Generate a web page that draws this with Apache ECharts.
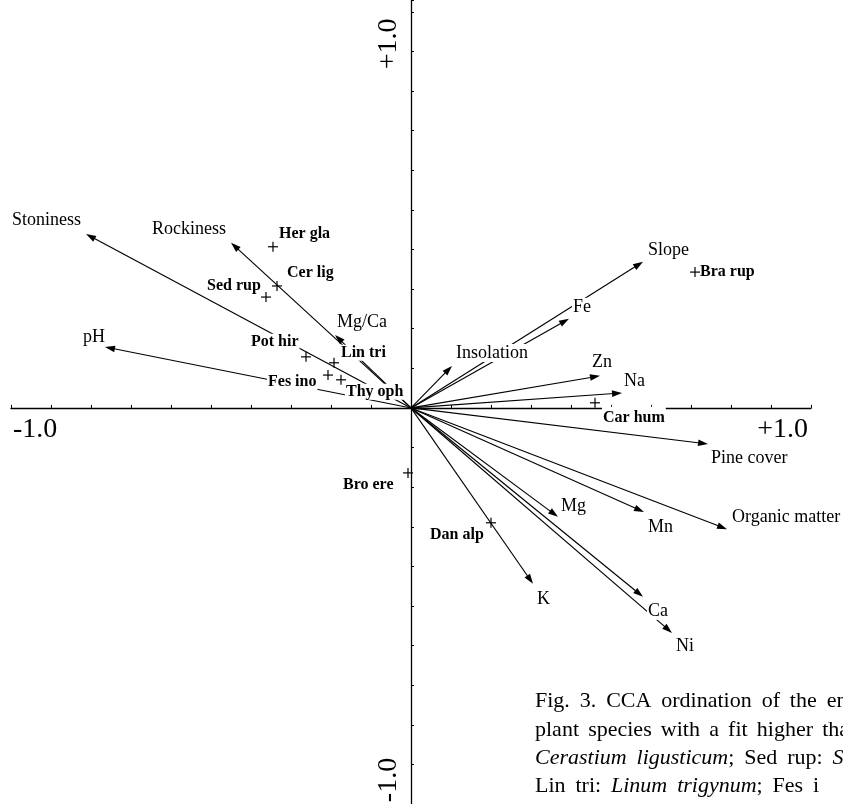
<!DOCTYPE html>
<html><head><meta charset="utf-8">
<script src="https://cdn.jsdelivr.net/npm/echarts@6/dist/echarts.min.js"></script>
<style>html,body{margin:0;padding:0;background:#fff}#c{width:843px;height:804px}</style>
</head><body><div id="c"></div>
<script>
// ---- data ----
const envNames = ['Stoniness','Rockiness','Mg/Ca','pH','Slope','Fe','Insolation','Zn','Na','Pine cover','Organic matter','Mn','Mg','K','Ca','Ni'];
const envX = [-0.8125,-0.45,-0.19,-0.765,0.58,0.395,0.1025,0.4725,0.5275,0.7425,0.79,0.5825,0.3675,0.305,0.58,0.6525];
const envY = [0.439,0.417,0.184,0.154,0.369,0.225,0.106,0.081,0.038,-0.091,-0.306,-0.263,-0.275,-0.444,-0.477,-0.568];
const spNames = ['Her gla','Cer lig','Sed rup','Pot hir','Lin tri','Fes ino','Thy oph','Bra rup','Car hum','Bro ere','Dan alp'];
const spX = [-0.345,-0.335,-0.3625,-0.2625,-0.1925,-0.2075,-0.175,0.71,0.46,-0.0075,0.2];
const spY = [0.407,0.308,0.280,0.129,0.114,0.083,0.071,0.343,0.013,-0.164,-0.29];
const xTickLabels = ['-1.0','+1.0'];
const yTickLabels = ['+1.0','-1.0'];
const captionLines = [
  'Fig. 3. CCA ordination of the en',
  'plant species with a fit higher tha',
  '{i|Cerastium ligusticum}; Sed rup: {i|S}',
  'Lin tri: {i|Linum trigynum}; Fes i'
];

// ---- layout (pixel offsets of labels from their points) ----
const envLabelOffset = [[-75,-14],[-80,-14],[1,-13],[-23,-10],[4,-12],[3,-12],[3,-13],[-9,-14],[1,-12],[2,14],[4,-12],[3,15],[2,-11],[3,15],[4,14],[3,13]];
const spLabelOffset = [[5,-13],[9,-13],[-60,-11],[-56,-15],[6,-10],[-61,7],[4,12],[4,0],[7,15],[-66,12],[-62,12]];
const captionGap = [' \u2009', '\u2004\u200A', ' \u2009', ' \u2009'];

const SERIF = '"Liberation Serif","Times New Roman",serif';
const envFont = '18px ' + SERIF;
const spFont = 'bold 16px ' + SERIF;

const chart = echarts.init(document.getElementById('c'), null, {renderer:'canvas'});

const envData = envNames.map((n,i)=>[envX[i], envY[i], i]);
const spData = spNames.map((n,i)=>[spX[i], spY[i], i]);

const option = {
  animation:false,
  backgroundColor:'#fff',
  grid:{left:11, right:32, top:0, bottom:0, containLabel:false},
  xAxis:{type:'value', min:-1, max:1, interval:0.1,
    axisLine:{onZero:true, lineStyle:{color:'#000', width:1.3}},
    axisTick:{show:true, inside:true, length:3, lineStyle:{color:'#000', width:1}},
    axisLabel:{show:false}, splitLine:{show:false}},
  yAxis:{type:'value', min:-1, max:1.03, interval:0.1,
    axisLine:{onZero:true, lineStyle:{color:'#000', width:1.3}},
    axisTick:{show:true, inside:true, length:3, lineStyle:{color:'#000', width:1}},
    axisLabel:{show:false}, splitLine:{show:false}},
  series:[
    { // environmental arrows
      type:'custom', coordinateSystem:'cartesian2d', z:2, data:envData, silent:true,
      renderItem(params, api){
        const o = api.coord([0,0]);
        const p = api.coord([api.value(0), api.value(1)]);
        const dx=p[0]-o[0], dy=p[1]-o[1], L=Math.hypot(dx,dy);
        const ux=dx/L, uy=dy/L, hl=10, hw=3.3;
        const bx=p[0]-ux*hl, by=p[1]-uy*hl;
        return {type:'group', children:[
          {type:'line', shape:{x1:o[0],y1:o[1],x2:bx+ux*2,y2:by+uy*2}, style:{stroke:'#000', lineWidth:1.15}},
          {type:'polygon', shape:{points:[[p[0],p[1]],[bx-uy*hw,by+ux*hw],[bx+uy*hw,by-ux*hw]]}, style:{fill:'#000'}}
        ]};
      }
    },
    { // env labels
      type:'custom', coordinateSystem:'cartesian2d', z:5, data:envData, silent:true,
      renderItem(params, api){
        const i = api.value(2);
        const p = api.coord([api.value(0), api.value(1)]);
        const off = envLabelOffset[i];
        return {type:'text', x:p[0]+off[0], y:p[1]+off[1],
          style:{text:envNames[i], font:envFont, fill:'#000', align:'left', verticalAlign:'middle', backgroundColor:'#fff', padding:[0,1]}};
      }
    },
    { // species labels
      type:'custom', coordinateSystem:'cartesian2d', z:5, data:spData, silent:true,
      renderItem(params, api){
        const i = api.value(2);
        const p = api.coord([api.value(0), api.value(1)]);
        const off = spLabelOffset[i];
        return {type:'text', x:p[0]+off[0], y:p[1]+off[1],
          style:{text:spNames[i], font:spFont, fill:'#000', align:'left', verticalAlign:'middle', backgroundColor:'#fff', padding:i===8?[6,1,0,1]:[0,1]}};
      }
    },
    { // species crosses
      type:'custom', coordinateSystem:'cartesian2d', z:6, data:spData, silent:true,
      renderItem(params, api){
        const p = api.coord([api.value(0), api.value(1)]);
        const a = 5;
        return {type:'group', children:[
          {type:'line', shape:{x1:p[0]-a,y1:p[1],x2:p[0]+a,y2:p[1]}, style:{stroke:'#000', lineWidth:1.2}},
          {type:'line', shape:{x1:p[0],y1:p[1]-a,x2:p[0],y2:p[1]+a}, style:{stroke:'#000', lineWidth:1.2}}
        ]};
      }
    }
  ]
};
chart.setOption(option);

// axis end labels, placed from the axis scales
const xl = chart.convertToPixel({gridIndex:0}, [-1,0]);
const xr = chart.convertToPixel({gridIndex:0}, [1,0]);
const yt = chart.convertToPixel({gridIndex:0}, [0,1]);
const yb = chart.convertToPixel({gridIndex:0}, [0,-1]);
const tickFont = '28px ' + SERIF;
const capFont = '22px ' + SERIF;
const graphic = [
  {type:'text', x:xl[0]+2, y:xl[1]+22, style:{text:xTickLabels[0], font:tickFont, fill:'#000', align:'left', verticalAlign:'middle'}},
  {type:'text', x:xr[0]-3, y:xr[1]+22, style:{text:xTickLabels[1], font:tickFont, fill:'#000', align:'right', verticalAlign:'middle'}},
  {type:'text', x:yt[0]-22, y:yt[1]+32, rotation:Math.PI/2, style:{text:yTickLabels[0], font:tickFont, fill:'#000', align:'center', verticalAlign:'middle'}},
  {type:'text', x:yb[0]-22, y:yb[1]-24, rotation:Math.PI/2, style:{text:yTickLabels[1], font:tickFont, fill:'#000', align:'center', verticalAlign:'middle'}}
];
const capY = [701, 730, 758, 786];
captionLines.forEach((t,k)=>{
  graphic.push({type:'text', x:535, y:capY[k], style:{text:t.split(' ').join(captionGap[k]), font:capFont, fill:'#000', align:'left', verticalAlign:'middle',
    rich:{i:{fontStyle:'italic', fontSize:22, fontFamily:SERIF}}}});
});
chart.setOption({graphic});
</script>
</body></html>
